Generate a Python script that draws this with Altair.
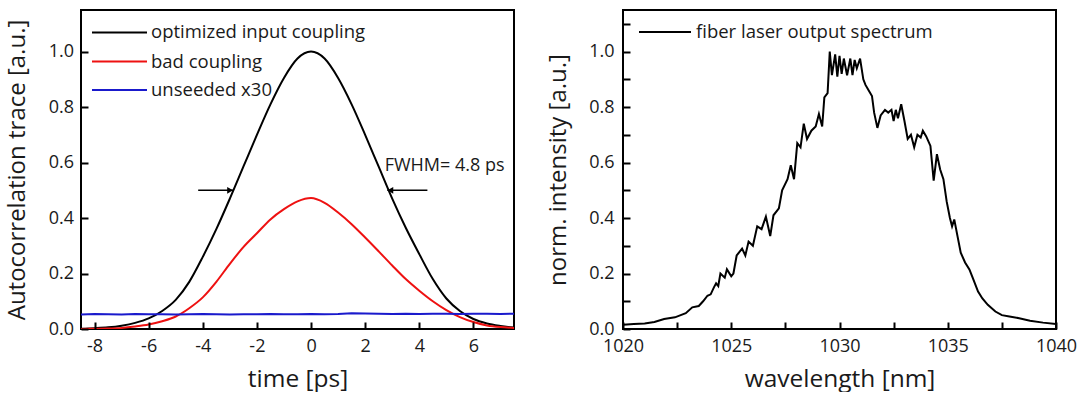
import altair as alt
import pandas as pd

# ---------------- data ----------------
time_ps = [-8.5, -8.0, -7.5, -7.0, -6.5, -6.0, -5.5, -5.0, -4.5, -4.0, -3.5,
           -3.0, -2.5, -2.0, -1.5, -1.0, -0.5, 0.0, 0.5, 1.0, 1.5, 2.0, 2.5,
           3.0, 3.5, 4.0, 4.5, 5.0, 5.5, 6.0, 6.5, 7.0, 7.5]
optimized = [0.001, 0.003, 0.006, 0.012, 0.022, 0.038, 0.065, 0.105, 0.17,
             0.26, 0.36, 0.47, 0.585, 0.70, 0.81, 0.905, 0.975, 1.0, 0.975,
             0.905, 0.81, 0.70, 0.585, 0.47, 0.365, 0.27, 0.18, 0.11, 0.065,
             0.036, 0.02, 0.011, 0.005]
bad = [0.0, 0.001, 0.002, 0.004, 0.009, 0.016, 0.028, 0.045, 0.075, 0.114,
       0.17, 0.235, 0.295, 0.345, 0.395, 0.432, 0.46, 0.472, 0.455, 0.42,
       0.378, 0.33, 0.28, 0.229, 0.18, 0.138, 0.10, 0.068, 0.043, 0.025,
       0.013, 0.007, 0.004]
unseeded = [0.052, 0.054, 0.053, 0.052, 0.054, 0.053, 0.053, 0.052, 0.053,
            0.054, 0.053, 0.052, 0.053, 0.053, 0.054, 0.053, 0.053, 0.054,
            0.053, 0.054, 0.057, 0.056, 0.055, 0.054, 0.055, 0.054, 0.055,
            0.055, 0.054, 0.055, 0.055, 0.054, 0.055]
series_names = ["optimized input coupling", "bad coupling", "unseeded x30"]
series_colors = ["#000000", "#ee1111", "#1a1acc"]

wavelength_nm = [1020.0, 1020.5, 1021.0, 1021.45, 1021.9, 1022.4, 1022.9, 1023.2,
                 1023.5, 1023.7, 1023.9, 1024.05, 1024.2, 1024.3, 1024.4, 1024.5,
                 1024.7, 1024.8, 1025.0, 1025.1, 1025.25, 1025.5, 1025.65, 1025.8,
                 1026.0, 1026.2, 1026.4, 1026.6, 1026.8, 1026.95, 1027.2, 1027.35,
                 1027.6, 1027.75, 1027.9, 1028.05, 1028.2, 1028.35, 1028.5, 1028.7,
                 1028.9, 1029.05, 1029.2, 1029.3, 1029.45, 1029.55, 1029.65, 1029.8,
                 1029.9, 1030.0, 1030.1, 1030.2, 1030.35, 1030.5, 1030.6, 1030.7,
                 1030.8, 1030.95, 1031.1, 1031.2, 1031.35, 1031.5, 1031.6, 1031.75,
                 1031.9, 1032.1, 1032.25, 1032.4, 1032.5, 1032.6, 1032.7, 1032.85,
                 1033.0, 1033.15, 1033.3, 1033.45, 1033.6, 1033.75, 1033.85, 1034.0,
                 1034.2, 1034.35, 1034.5, 1034.65, 1034.8, 1034.95, 1035.1, 1035.2,
                 1035.3, 1035.45, 1035.6, 1035.8, 1036.0, 1036.15, 1036.4, 1036.6,
                 1036.85, 1037.2, 1037.5, 1037.85, 1038.3, 1038.8, 1039.4, 1040.0]
intensity = [0.015, 0.018, 0.02, 0.025, 0.036, 0.042, 0.057, 0.078,
             0.083, 0.10, 0.12, 0.125, 0.15, 0.165, 0.155, 0.20,
             0.185, 0.215, 0.19, 0.20, 0.265, 0.29, 0.265, 0.315,
             0.30, 0.37, 0.36, 0.405, 0.335, 0.41, 0.435, 0.50,
             0.54, 0.59, 0.54, 0.67, 0.655, 0.74, 0.685, 0.715,
             0.73, 0.775, 0.73, 0.835, 0.85, 1.0, 0.915, 0.99,
             0.91, 0.985, 0.92, 0.975, 0.915, 0.975, 0.915, 0.97,
             0.94, 0.975, 0.90, 0.88, 0.86, 0.84, 0.78, 0.725,
             0.77, 0.79, 0.78, 0.79, 0.75, 0.79, 0.76, 0.81,
             0.75, 0.685, 0.70, 0.655, 0.70, 0.69, 0.715, 0.695,
             0.66, 0.535, 0.63, 0.575, 0.54, 0.46, 0.40, 0.37,
             0.395, 0.335, 0.275, 0.24, 0.215, 0.185, 0.135, 0.11,
             0.087, 0.063, 0.05, 0.045, 0.039, 0.03, 0.023, 0.018]
spectrum_label = "fiber laser output spectrum"

# axis tick positions (labelled + unlabelled)
time_ticks = [-8, -7, -6, -5, -4, -3, -2, -1, 0, 1, 2, 3, 4, 5, 6, 7]
wl_ticks = [1020, 1022.5, 1025, 1027.5, 1030, 1032.5, 1035, 1037.5, 1040]
y_ticks = [0.0, 0.1, 0.2, 0.3, 0.4, 0.5, 0.6, 0.7, 0.8, 0.9, 1.0, 1.1]

# FWHM annotation (data coordinates)
fwhm_left = [-4.17, -2.88]
fwhm_right = [4.3, 2.82]
fwhm_level = 0.5
fwhm_text = "FWHM= 4.8 ps"
fwhm_text_at = [2.72, 0.586]

# ---------------- styling ----------------
FONT = "Open Sans"
TXT = "#1a1a1a"
W, H = 433, 319
TICK_FS = 18
TITLE_FS = 24
LEG_FS = 18.5
TK = 7  # inward tick length (px): axis pulled inside by TK, ticks point out to the frame

y_scale = alt.Scale(domain=[0, 1.15], nice=False, zero=False)
t_scale = alt.Scale(domain=[-8.5, 7.5], nice=False, zero=False)
w_scale = alt.Scale(domain=[1020, 1040], nice=False, zero=False)


def x_axis(title, values, label_test):
    return alt.Axis(title=title, values=values, ticks=True, tickSize=TK, tickWidth=2,
                    tickColor="#000000", tickOpacity=1, offset=-TK, domain=False, grid=False,
                    zindex=1, labelFlush=False, labelOverlap=False, labelFontSize=TICK_FS,
                    titleFontSize=TITLE_FS + 0.5, labelPadding=8, titlePadding=12,
                    labelExpr=f"({label_test}) ? datum.value + '' : ''")


def y_axis(title, lpad, tpad):
    return alt.Axis(title=title, values=y_ticks, ticks=True, tickSize=TK, tickWidth=2,
                    tickColor="#000000", tickOpacity=1, offset=-TK, domain=False, grid=False,
                    zindex=1, labelFontSize=TICK_FS, titleFontSize=TITLE_FS,
                    labelPadding=lpad, titlePadding=tpad, labelOverlap=False,
                    labelExpr="round(datum.value * 10) % 2 == 0 ? format(datum.value, '.1f') : ''")


# ---------------- left panel ----------------
left_df = pd.DataFrame({
    "time": time_ps * 3,
    "value": optimized + bad + unseeded,
    "series": [series_names[0]] * len(time_ps) + [series_names[1]] * len(time_ps)
              + [series_names[2]] * len(time_ps),
})

color_scale = alt.Scale(domain=series_names, range=series_colors)
left_layers = []
for i, name in enumerate(series_names):
    left_layers.append(
        alt.Chart(left_df[left_df.series == name]).mark_line(
            strokeWidth=2, interpolate="monotone" if i < 2 else "linear", clip=True
        ).encode(
            x=alt.X("time:Q", scale=t_scale,
                    axis=x_axis("time [ps]", time_ticks, "datum.value % 2 == 0")),
            y=alt.Y("value:Q", scale=y_scale,
                    axis=y_axis("Autocorrelation trace [a.u.]", 7.5, 19)),
            color=alt.Color("series:N", scale=color_scale, legend=None),
        )
    )

# FWHM arrows
arrow_df = pd.DataFrame({"x": [fwhm_left[0], fwhm_right[0]],
                         "x2": [fwhm_left[1], fwhm_right[1]],
                         "y": [fwhm_level] * 2})
left_layers.append(
    alt.Chart(arrow_df).mark_rule(color="black", strokeWidth=1.5).encode(
        x="x:Q", x2="x2:Q", y="y:Q")
)
left_layers.append(
    alt.Chart(arrow_df.iloc[[0]]).mark_point(
        filled=True, color="black", size=45, opacity=1, shape="triangle-right", xOffset=-3
    ).encode(x="x2:Q", y="y:Q")
)
left_layers.append(
    alt.Chart(arrow_df.iloc[[1]]).mark_point(
        filled=True, color="black", size=45, opacity=1, shape="triangle-left", xOffset=3
    ).encode(x="x2:Q", y="y:Q")
)
left_layers.append(
    alt.Chart(pd.DataFrame({"t": [fwhm_text]})).mark_text(
        align="left", baseline="middle", fontSize=18, font=FONT, color=TXT
    ).encode(x=alt.datum(fwhm_text_at[0]), y=alt.datum(fwhm_text_at[1]), text="t:N")
)

# legend (manual, library text/rule marks)
leg_rows = [22.4, 51.5, 80.0]
for name, col, yy in zip(series_names, series_colors, leg_rows):
    left_layers.append(
        alt.Chart(pd.DataFrame({"s": [name]})).mark_rule(color=col, strokeWidth=2).encode(
            x=alt.value(11), x2=alt.value(66), y=alt.value(yy))
    )
    left_layers.append(
        alt.Chart(pd.DataFrame({"s": [name]})).mark_text(
            align="left", baseline="middle", fontSize=LEG_FS, font=FONT, color=TXT
        ).encode(x=alt.value(70), y=alt.value(yy), text="s:N")
    )

left = alt.layer(*left_layers).properties(width=W, height=H)

# ---------------- right panel ----------------
spec_df = pd.DataFrame({"wl": wavelength_nm, "I": intensity})
right_layers = [
    alt.Chart(spec_df).mark_line(strokeWidth=2, color="black", clip=True).encode(
        x=alt.X("wl:Q", scale=w_scale,
                axis=x_axis("wavelength [nm]", wl_ticks, "datum.value % 5 == 0")),
        y=alt.Y("I:Q", scale=y_scale, axis=y_axis("norm. intensity [a.u.]", 9, 18)),
    )
]
right_layers.append(
    alt.Chart(pd.DataFrame({"s": [spectrum_label]})).mark_rule(color="black", strokeWidth=2).encode(
        x=alt.value(16), x2=alt.value(68), y=alt.value(22))
)
right_layers.append(
    alt.Chart(pd.DataFrame({"s": [spectrum_label]})).mark_text(
        align="left", baseline="middle", fontSize=LEG_FS, font=FONT, color=TXT
    ).encode(x=alt.value(73), y=alt.value(22), text="s:N")
)
right = alt.layer(*right_layers).properties(width=W, height=H)

chart = alt.hconcat(left, right, spacing=30).properties(
    padding={"left": 4, "top": 9, "right": 0, "bottom": 0},
    background="white",
).configure_view(
    stroke="black", strokeWidth=2
).configure_axis(
    labelFont=FONT, titleFont=FONT, labelColor=TXT, titleColor=TXT,
    titleFontWeight="normal"
).configure_text(font=FONT)

chart.save("out.html", embed_options={"renderer": "svg", "actions": False})
